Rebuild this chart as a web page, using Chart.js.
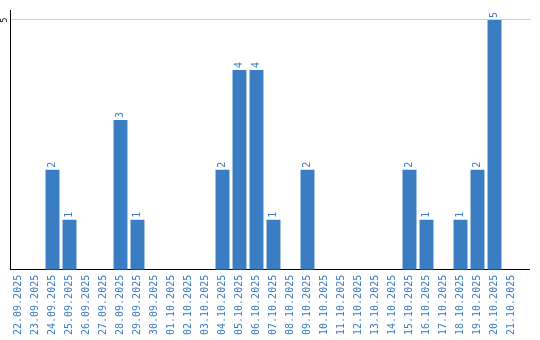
<!DOCTYPE html>
<html><head><meta charset="utf-8">
<script src="https://cdn.jsdelivr.net/npm/chart.js@4/dist/chart.umd.min.js"></script>
<style>html,body{margin:0;padding:0;background:#fff}#wrap{width:540px;height:340px}</style>
</head><body><div id="wrap"><canvas id="c" width="540" height="340"></canvas></div>
<script>
const categories = ["22.09.2025","23.09.2025","24.09.2025","25.09.2025","26.09.2025","27.09.2025","28.09.2025","29.09.2025","30.09.2025","01.10.2025","02.10.2025","03.10.2025","04.10.2025","05.10.2025","06.10.2025","07.10.2025","08.10.2025","09.10.2025","10.10.2025","11.10.2025","12.10.2025","13.10.2025","14.10.2025","15.10.2025","16.10.2025","17.10.2025","18.10.2025","19.10.2025","20.10.2025","21.10.2025"];
const counts = [0,0,2,1,0,0,3,1,0,0,0,0,2,4,4,1,0,2,0,0,0,0,0,2,1,0,1,2,5,0];
const yTicks = [5];

const BLUE = '#3b7dc2';
const MONO = '"DejaVu Sans Mono", monospace';

const valueLabels = {
  id: 'valueLabels',
  afterDatasetsDraw(chart) {
    const ctx = chart.ctx;
    const meta = chart.getDatasetMeta(0);
    ctx.save();
    ctx.fillStyle = BLUE;
    ctx.font = '10px ' + MONO;
    ctx.textAlign = 'left';
    ctx.textBaseline = 'middle';
    meta.data.forEach((bar, i) => {
      const v = counts[i];
      if (!v) return;
      ctx.save();
      ctx.translate(bar.x, bar.y - 2);
      ctx.rotate(-Math.PI / 2);
      ctx.fillText(String(v), 0, 0);
      ctx.restore();
    });
    // rotated y tick labels
    const y = chart.scales.y;
    ctx.fillStyle = '#000';
    ctx.font = '8px ' + MONO;
    ctx.textAlign = 'center';
    ctx.textBaseline = 'middle';
    yTicks.forEach(t => {
      ctx.save();
      ctx.translate(5, y.getPixelForValue(t));
      ctx.rotate(-Math.PI / 2);
      ctx.fillText(String(t), 0, 0);
      ctx.restore();
    });
    ctx.restore();
  }
};

const align = p => Math.round(p + 0.5) - 0.5;

const extendLines = {
  id: 'extendLines',
  afterDraw(chart) {
    const ctx = chart.ctx;
    const a = chart.chartArea;
    const y = chart.scales.y;
    ctx.save();
    ctx.lineWidth = 1;
    ctx.strokeStyle = '#cccccc';
    yTicks.forEach(t => {
      const py = align(y.getPixelForValue(t));
      ctx.beginPath(); ctx.moveTo(a.right - 1, py); ctx.lineTo(a.right + 10, py); ctx.stroke();
    });
    ctx.strokeStyle = '#000';
    const by = align(a.bottom);
    ctx.beginPath(); ctx.moveTo(a.right - 1, by); ctx.lineTo(a.right + 10, by); ctx.stroke();
    ctx.restore();
  }
};

new Chart(document.getElementById('c'), {
  type: 'bar',
  data: { labels: categories, datasets: [{ data: counts, backgroundColor: BLUE, barPercentage: 0.82, categoryPercentage: 1.0 }] },
  options: {
    responsive: false, animation: false,
    layout: { padding: { top: 10, right: 20, left: 10, bottom: 0 } },
    plugins: { legend: { display: false }, tooltip: { enabled: false } },
    scales: {
      x: {
        grid: { display: false, drawTicks: false },
        border: { color: '#000', width: 1 },
        ticks: { color: BLUE, font: { family: MONO, size: 10 }, minRotation: 90, maxRotation: 90, padding: 5, autoSkip: false }
      },
      y: {
        min: 0, max: 5.2,
        afterBuildTicks: s => { s.ticks = yTicks.map(v => ({ value: v })); },
        grid: { color: '#cccccc', drawTicks: false },
        border: { color: '#000', width: 1 },
        ticks: { display: false }
      }
    }
  },
  plugins: [valueLabels, extendLines]
});
</script></body></html>
